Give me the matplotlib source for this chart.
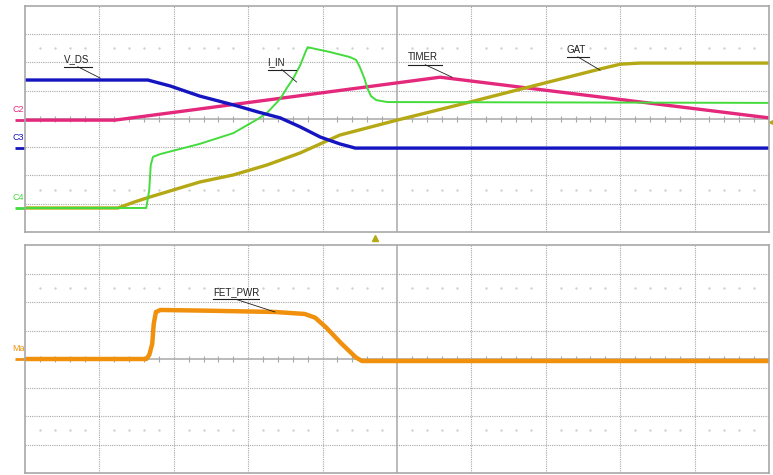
import numpy as np
import matplotlib.pyplot as plt

# scope traces in divisions (x: 0..10, y: -4..4)
vds_t = [0, 1.65, 1.95, 2.35, 2.80, 3.13, 3.43, 3.70, 3.97, 4.23, 4.44, 10]
vds_v = [1.38, 1.38, 1.17, 0.81, 0.50, 0.25, 0.04, -0.28, -0.64, -0.88, -1.03, -1.03]

timer_t = [0, 1.21, 5.58, 10]
timer_v = [-0.04, -0.04, 1.48, 0.04]

iin_t = [0, 1.63, 1.67, 1.69, 1.72, 1.82, 2.35, 2.80, 3.13, 3.25, 3.43, 3.52, 3.60,
         3.70, 3.78, 3.80, 4.10, 4.37, 4.45, 4.50, 4.56, 4.60, 4.65, 4.72, 4.87, 10]
iin_v = [-3.15, -3.15, -2.51, -1.63, -1.34, -1.24, -0.88, -0.50, 0.0, 0.21, 0.71, 1.10, 1.41,
         1.91, 2.44, 2.54, 2.37, 2.19, 2.09, 1.84, 1.45, 1.10, 0.81, 0.67, 0.60, 0.57]

gat_t = [0, 1.25, 1.48, 1.68, 2.35, 2.80, 3.25, 3.70, 3.97, 4.23, 5.0, 5.98, 6.56,
         7.19, 7.73, 8.0, 8.27, 10]
gat_v = [-3.15, -3.15, -2.93, -2.76, -2.23, -1.98, -1.63, -1.20, -0.88, -0.57, -0.04, 0.60, 0.99,
         1.41, 1.77, 1.94, 1.98, 1.98]

pwr_t = [0, 1.63, 1.67, 1.71, 1.73, 1.76, 1.82, 2.35, 3.36, 3.76, 3.90, 4.05, 4.25, 4.45, 4.53, 10]
pwr_v = [0, 0, 0.14, 0.53, 1.23, 1.65, 1.72, 1.70, 1.65, 1.58, 1.45, 1.10, 0.55, 0.05, -0.07, -0.07]

blue = '#1414c0'
pink = '#e4287c'
green = '#44dc3c'
olive = '#b4a814'
orange = '#f0900c'
grid_c = '#a8a8a8'

plt.rcParams['font.family'] = ['Liberation Sans', 'DejaVu Sans']

fig = plt.figure(figsize=(7.73, 4.75), dpi=100)
ax1 = fig.add_axes([25 / 773, 1 - 232 / 475, 744 / 773, 226 / 475])
ax2 = fig.add_axes([25 / 773, 1 - 473 / 475, 744 / 773, 228 / 475])


def graticule(ax):
    ax.set_xlim(0, 10)
    ax.set_ylim(-4, 4)
    ax.set_xticks([])
    ax.set_yticks([])
    for s in ax.spines.values():
        s.set_color(grid_c)
        s.set_linewidth(1.2)
    for x in range(1, 10):
        if x != 5:
            ax.axvline(x, color=grid_c, lw=0.8, ls=(0, (1, 1)), zorder=0)
    for y in range(-3, 4):
        if y != 0:
            ax.axhline(y, color=grid_c, lw=0.8, ls=(0, (1, 1)), zorder=0)
    ax.axvline(5, color=grid_c, lw=1.1, zorder=0)
    ax.axhline(0, color=grid_c, lw=1.1, zorder=0)
    mt = np.arange(0.2, 10, 0.2)
    mt = mt[np.abs(mt - np.round(mt)) > 0.05]
    ax.plot(mt, np.zeros_like(mt), ls='none', marker='|', ms=5, color=grid_c, mew=0.8, zorder=0)
    for yy in (2.5, -2.5):
        ax.plot(mt, np.full_like(mt, yy), ls='none', marker='.', ms=1.5, color='#d0d0d0', zorder=0)


def label(ax, text, tx, ty, px, py):
    ax.text(tx, ty, text, fontsize=7, color='#202020', ha='left', va='bottom')
    w = 0.08 * len(text) + 0.06
    ax.plot([tx, tx + w], [ty - 0.08, ty - 0.08], color='#202020', lw=0.8)
    ax.plot([tx + w * 0.5, px], [ty - 0.08, py], color='#202020', lw=0.6)


def ch_mark(ax, name, y, col):
    ax.text(-0.17, y + 0.2, name, fontsize=6.5, color=col, ha='left', va='bottom', clip_on=False)
    ax.plot([-0.13, 0], [y, y], color=col, lw=2, clip_on=False, solid_capstyle='butt')


graticule(ax1)
graticule(ax2)

ax1.plot(timer_t, timer_v, color=pink, lw=2.4)
ax1.plot(gat_t, gat_v, color=olive, lw=2.4)
ax1.plot(iin_t, iin_v, color=green, lw=1.4)
ax1.plot(vds_t, vds_v, color=blue, lw=2.4)
ax2.plot(pwr_t, pwr_v, color=orange, lw=3.2)

label(ax1, 'V_DS', 0.52, 1.93, 1.01, 1.45)
label(ax1, 'I_IN', 3.26, 1.83, 3.65, 1.31)
label(ax1, 'TIMER', 5.15, 2.0, 5.74, 1.48)
label(ax1, 'GAT', 7.28, 2.28, 7.73, 1.73)
label(ax2, 'FET_PWR', 2.53, 2.17, 3.36, 1.65)

ch_mark(ax1, 'C2', -0.04, pink)
ch_mark(ax1, 'C3', -1.03, blue)
ch_mark(ax1, 'C4', -3.15, green)
ch_mark(ax2, 'Ma', 0.0, orange)

# trigger markers
ax1.plot([10.03], [-0.1], marker='<', ms=3, color=olive, clip_on=False)
ax1.plot([4.70], [-4.2], marker='^', ms=5, color=olive, clip_on=False)

fig.savefig('out.png', dpi=100, facecolor='white')
